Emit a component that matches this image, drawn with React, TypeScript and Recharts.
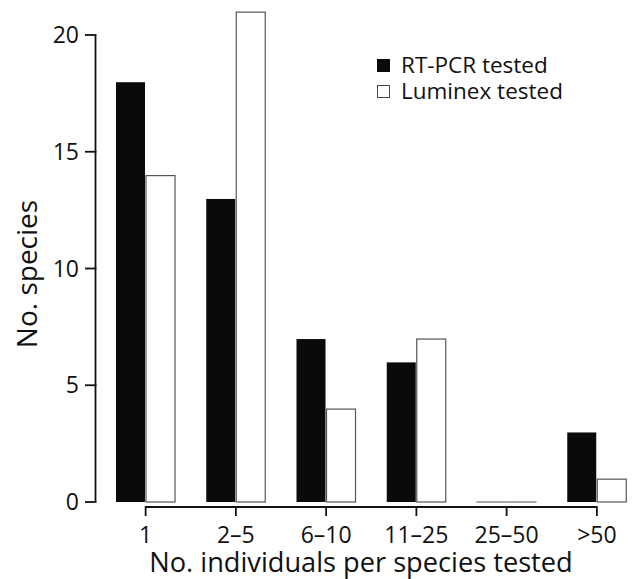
import React from 'react';
import { BarChart, Bar, XAxis, YAxis, Legend } from 'recharts';

const categories = ['1', '2–5', '6–10', '11–25', '25–50', '>50'];
const rtpcr = [18, 13, 7, 6, 0, 3];
const luminex = [14, 21, 4, 7, 0, 1];
const yTicks = [0, 5, 10, 15, 20];
const seriesNames = ['RT-PCR tested', 'Luminex tested'];

const data = categories.map((c, i) => ({ cat: c, rtpcr: rtpcr[i], luminex: luminex[i] }));

const FONT = '"Open Sans", "Noto Sans", sans-serif';
const CHART_W = 650;
const CHART_H = 579;
const MARGIN = { top: 11.65, right: 8, bottom: 0, left: 0 };
const YAXIS_W = 95.5;
const XAXIS_H = 77;
const PAD_L = 5;
const PAD_R = 0;
const Y_MAX = 21;
const PLOT_W = CHART_W - MARGIN.left - MARGIN.right - YAXIS_W;
const PLOT_H = CHART_H - MARGIN.top - MARGIN.bottom - XAXIS_H;
const BAND = (PLOT_W - PAD_L - PAD_R) / categories.length;
const Y_STEP_PX = (PLOT_H * 5) / Y_MAX;
const AXIS_COLOR = '#111';

const XTick = (props: any) => {
  const { x, y, payload, index } = props;
  const last = index === categories.length - 1;
  return (
    <g>
      {!last && (
        <line x1={x} x2={x + BAND} y1={y + 5} y2={y + 5} stroke={AXIS_COLOR} strokeWidth={1.8} />
      )}
      <line x1={x} x2={x} y1={y + 4.1} y2={y + 14} stroke={AXIS_COLOR} strokeWidth={1.8} />
      <text x={x} y={y + 40.5} textAnchor="middle" fontFamily={FONT} fontSize={23} fill="#111">
        {payload.value}
      </text>
    </g>
  );
};

const YTick = (props: any) => {
  const { x, y, payload } = props;
  const top = payload.value >= 20;
  return (
    <g>
      {!top && (
        <line x1={x} x2={x} y1={y} y2={y - Y_STEP_PX} stroke={AXIS_COLOR} strokeWidth={1.8} />
      )}
      <line x1={x - 10.5} x2={x + 0.9} y1={y} y2={y} stroke={AXIS_COLOR} strokeWidth={1.8} />
      <text x={x - 16.5} y={y + 8.2} textAnchor="end" fontFamily={FONT} fontSize={23} fill="#111">
        {payload.value}
      </text>
    </g>
  );
};

const BarShape = (props: any) => {
  const { x, y, width, height, fill, stroke } = props;
  if (!height) {
    return <line x1={x} x2={x + width} y1={y} y2={y} stroke="#8a8a8a" strokeWidth={1.5} />;
  }
  return (
    <rect
      x={x + 0.5}
      y={y + 0.5}
      width={width - 1}
      height={height - 0.5}
      fill={fill}
      stroke={stroke}
      strokeWidth={stroke === 'none' ? 0 : 1.2}
    />
  );
};

const LegendContent = () => {
  const rows = [
    { name: seriesNames[0], fill: '#0a0a0a', border: '#0a0a0a' },
    { name: seriesNames[1], fill: '#ffffff', border: '#444' },
  ];
  return (
    <div style={{ fontFamily: FONT, fontSize: 22.5, lineHeight: '26px', color: '#111' }}>
      {rows.map((r) => (
        <div key={r.name} style={{ display: 'flex', alignItems: 'center', whiteSpace: 'nowrap' }}>
          <span
            style={{
              display: 'inline-block',
              width: 13,
              height: 13,
              boxSizing: 'border-box',
              background: r.fill,
              border: `1px solid ${r.border}`,
              marginRight: 11,
            }}
          />
          <span>{r.name}</span>
        </div>
      ))}
    </div>
  );
};

export default function App() {
  return (
    <div
      style={{
        position: 'absolute',
        left: 0,
        top: 0,
        width: 634,
        height: 579,
        overflow: 'hidden',
        background: '#fff',
      }}
    >
      <BarChart
        width={CHART_W}
        height={CHART_H}
        data={data}
        margin={MARGIN}
        barGap={0}
        barSize={30}
      >
        <XAxis
          dataKey="cat"
          height={XAXIS_H}
          axisLine={false}
          tickLine={false}
          tickSize={0}
          tickMargin={0}
          interval={0}
          padding={{ left: PAD_L, right: PAD_R }}
          tick={<XTick />}
          label={{
            content: () => (
              <text x={361} y={572} textAnchor="middle" fontFamily={FONT} fontSize={27.2} fill="#111">
                No. individuals per species tested
              </text>
            ),
          }}
        />
        <YAxis
          width={YAXIS_W}
          domain={[0, Y_MAX]}
          ticks={yTicks}
          interval={0}
          axisLine={false}
          tickLine={false}
          tickSize={0}
          tickMargin={0}
          tick={<YTick />}
          label={{
            content: () => (
              <text
                x={36.7}
                y={274}
                transform="rotate(-90, 36.7, 274)"
                textAnchor="middle"
                fontFamily={FONT}
                fontSize={28}
                fill="#111"
              >
                No. species
              </text>
            ),
          }}
        />
        <Legend
          layout="vertical"
          align="center"
          verticalAlign="middle"
          content={<LegendContent />}
          wrapperStyle={{ position: 'absolute', left: 377, top: 52, width: 'auto' }}
        />
        <Bar
          dataKey="rtpcr"
          name={seriesNames[0]}
          fill="#0a0a0a"
          stroke="none"
          shape={<BarShape />}
          isAnimationActive={false}
        />
        <Bar
          dataKey="luminex"
          name={seriesNames[1]}
          fill="#ffffff"
          stroke="#555"
          shape={<BarShape />}
          isAnimationActive={false}
        />
      </BarChart>
    </div>
  );
}
